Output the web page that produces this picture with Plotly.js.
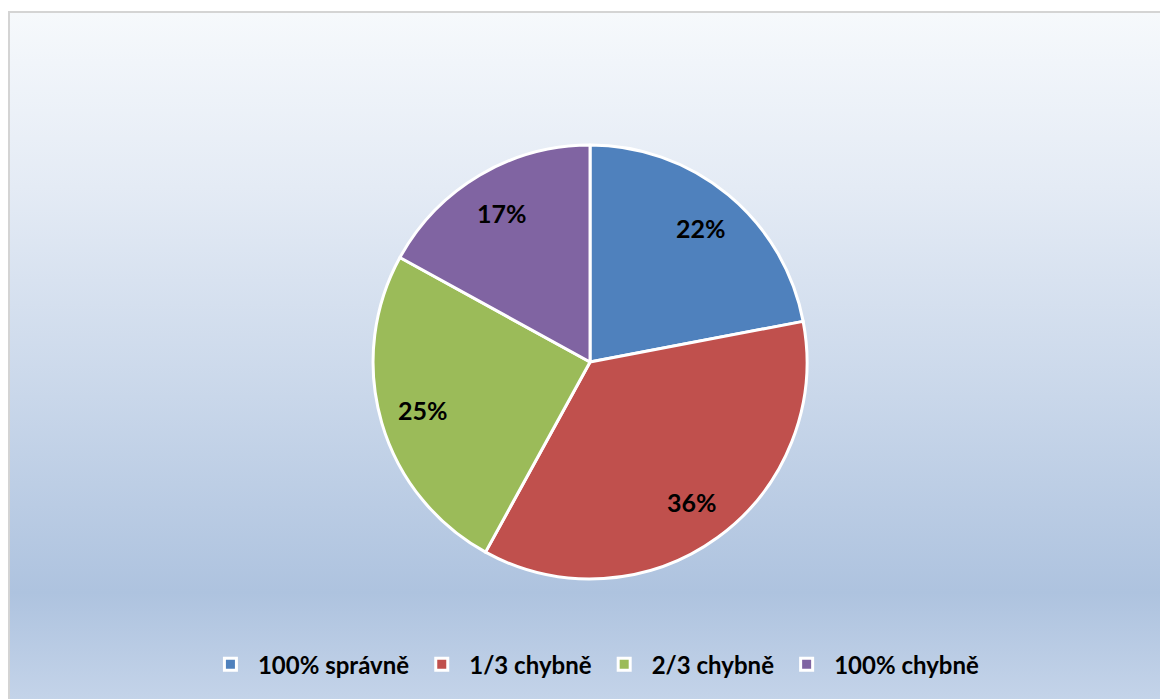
<!DOCTYPE html>
<html>
<head>
<meta charset="utf-8">
<script src="https://cdn.plot.ly/plotly-3.0.1.min.js"></script>
<style>
  html, body { margin: 0; padding: 0; background: #ffffff; }
  #wrap { position: relative; width: 1160px; height: 699px; overflow: hidden; }
  #bg {
    position: absolute; left: 8px; top: 11px; width: 1160px; height: 700px;
    box-sizing: border-box;
    border-left: 2px solid #d4d4d4; border-top: 2px solid #d4d4d4;
    background: linear-gradient(to bottom, #f6f9fc 0%, #e4ebf5 25%, #c9d7ea 55%, #aec3df 83%, #c6d5ea 100%);
  }
  #chart { position: absolute; left: 0; top: 0; width: 1160px; height: 699px; }
</style>
</head>
<body>
<div id="wrap">
  <div id="bg"></div>
  <div id="chart"></div>
</div>
<script>
const categories = ["100% správně", "1/3 chybně", "2/3 chybně", "100% chybně"];
const values = [22, 36, 25, 17];
const colors = ["#4f81bd", "#c0504d", "#9bbb59", "#8064a2"];

const W = 1160, H = 699;
const domX = [0.3216, 0.6957], domY = [0.1717, 0.7925];
const labelFont = { family: "Lato, 'Open Sans', sans-serif", size: 25, color: "#000000", weight: 700 };

const trace = {
  type: "pie",
  labels: categories,
  values: values,
  sort: false,
  direction: "clockwise",
  rotation: 0,
  marker: { colors: colors, line: { color: "#ffffff", width: 3 } },
  textinfo: "none",
  domain: { x: domX, y: domY },
  hoverinfo: "skip"
};

// percentage labels placed at 80% of the radius, at each slice's mid-angle
const total = values.reduce((a, b) => a + b, 0);
const cxp = (domX[0] + domX[1]) / 2, cyp = (domY[0] + domY[1]) / 2;
const rPx = Math.min((domX[1] - domX[0]) * W, (domY[1] - domY[0]) * H) / 2;
let cum = 0;
const annotations = values.map((v) => {
  const mid = (cum + v / 2) / total * 2 * Math.PI;
  cum += v;
  const rr = rPx * 0.8;
  return {
    xref: "paper", yref: "paper",
    x: cxp + rr * Math.sin(mid) / W,
    y: cyp + rr * Math.cos(mid) / H,
    text: Math.round(v / total * 100) + "%",
    showarrow: false,
    xanchor: "center", yanchor: "middle",
    font: labelFont
  };
});

const layout = {
  width: W,
  height: H,
  margin: { l: 0, r: 0, t: 0, b: 0 },
  paper_bgcolor: "rgba(0,0,0,0)",
  plot_bgcolor: "rgba(0,0,0,0)",
  showlegend: true,
  annotations: annotations,
  legend: {
    orientation: "h",
    x: 0.512, xanchor: "center",
    y: 0.049, yanchor: "middle",
    itemwidth: 45,
    font: { family: "Lato, 'Open Sans', sans-serif", size: 24, color: "#000000", weight: 700 },
    bgcolor: "rgba(0,0,0,0)",
    itemclick: false
  },
  font: { family: "Lato, sans-serif" }
};

Plotly.newPlot("chart", [trace], layout, { displayModeBar: false, staticPlot: true });
</script>
</body>
</html>
